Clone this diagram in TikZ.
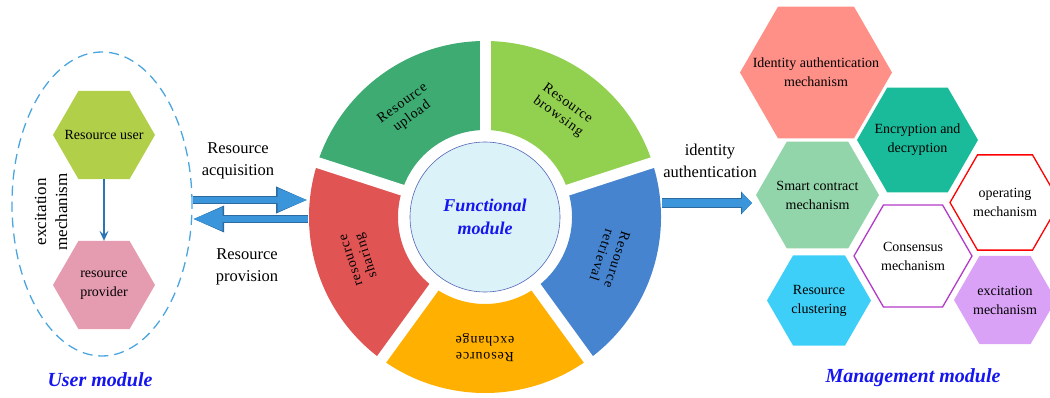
\documentclass[tikz,border=0pt]{standalone}
\usepackage{fontspec}
\setmainfont{Liberation Serif}
\usetikzlibrary{shapes.geometric,arrows.meta,calc}

\definecolor{dashblue}{HTML}{4BA6E0}
\definecolor{usergreen}{HTML}{B2CF4A}
\definecolor{provpink}{HTML}{E59BB0}
\definecolor{linkblue}{HTML}{2E75B6}
\definecolor{arrowfill}{HTML}{3A95DA}
\definecolor{arrowedge}{HTML}{2C6AA0}
\definecolor{modblue}{HTML}{1515F0}
\definecolor{upgreen}{HTML}{3DAB72}
\definecolor{browsegreen}{HTML}{92D050}
\definecolor{retrblue}{HTML}{4684D0}
\definecolor{exchorange}{HTML}{FFB000}
\definecolor{sharered}{HTML}{E05454}
\definecolor{circfill}{HTML}{DBF2F8}
\definecolor{circedge}{HTML}{5565B8}
\definecolor{idpink}{HTML}{FF9088}
\definecolor{encteal}{HTML}{1ABB9B}
\definecolor{smartgreen}{HTML}{93D5AA}
\definecolor{consviolet}{HTML}{B23AC8}
\definecolor{clustcyan}{HTML}{3DCFF7}
\definecolor{excitlilac}{HTML}{DAA2F7}

\tikzset{
  hexa/.style={regular polygon, regular polygon sides=6, inner sep=0pt, outer sep=0pt},
  hexlabel/.style={font=\fontsize{14}{19}\selectfont, align=center},
  modlabel/.style={font=\fontsize{20}{24}\selectfont\bfseries\itshape, text=modblue},
  lbl/.style={font=\fontsize{16.5}{22}\selectfont},
  ringtext/.style={font=\fontsize{14}{16}\selectfont\addfontfeature{LetterSpace=6}},
  blockarrow/.style={draw=arrowfill, line width=6pt, -{Triangle[length=30pt,width=22pt]},
    preaction={draw=arrowedge, line width=7.6pt, -{Triangle[length=31.5pt,width=24.5pt]}}},
  authArrow/.style={draw=arrowfill, line width=8pt, -{Triangle[length=10pt,width=20pt]},
    preaction={draw=arrowedge, line width=9.6pt, -{Triangle[length=11pt,width=22.5pt]}}},
}

\begin{document}
\begin{tikzpicture}[x=1pt, y=1pt, every node/.style={font=\fontsize{14}{19}\selectfont, align=center}]
  \useasboundingbox (0,0) rectangle (1050,397);

  % User module
  \node[ellipse, draw=dashblue, dash pattern=on 10pt off 6pt, line width=1.3pt,
        minimum width=180, minimum height=304, inner sep=0pt] (usermod) at (102,193) {};
  \node[hexa, fill=usergreen, minimum size=102, label={[hexlabel]center:Resource user}] (user) at (104,262) {};
  \node[hexa, fill=provpink, minimum size=102, label={[hexlabel]center:resource\\provider}] (provider) at (104,112) {};
  \draw[linkblue, line width=2.5pt, -{Stealth[length=10pt,width=9pt,inset=4pt]}] (user) -- (provider);
  \node[rotate=90, font=\fontsize{17}{21}\selectfont] (excit) at (51,185) {excitation\\mechanism};
  \node[modlabel] (userlbl) at (100,17) {User module};

  % Resource flows
  \draw[blockarrow] ($(usermod.east)+(0,4)$) -- ++(115,0);
  \draw[blockarrow] ($(usermod.east)+(115,-15)$) -- ++(-115,0);
  \node[lbl] (acq) at (238,236) {Resource\\acquisition};
  \node[lbl] (prov) at (247,130) {Resource\\provision};

  % Functional ring
  \begin{scope}[shift={(485,180)}]
    \fill[upgreen] (90:87) -- (90:176) arc[start angle=90, end angle=162, radius=176] -- (162:87) arc[start angle=162, end angle=90, radius=87] -- cycle;
    \fill[browsegreen] (18:87) -- (18:176) arc[start angle=18, end angle=90, radius=176] -- (90:87) arc[start angle=90, end angle=18, radius=87] -- cycle;
    \fill[retrblue] (-54:87) -- (-54:176) arc[start angle=-54, end angle=18, radius=176] -- (18:87) arc[start angle=18, end angle=-54, radius=87] -- cycle;
    \fill[exchorange] (234:87) -- (234:176) arc[start angle=234, end angle=306, radius=176] -- (306:87) arc[start angle=306, end angle=234, radius=87] -- cycle;
    \fill[sharered] (162:87) -- (162:176) arc[start angle=162, end angle=234, radius=176] -- (234:87) arc[start angle=234, end angle=162, radius=87] -- cycle;
    \foreach \a in {18,90,162,234,306}
      \draw[white, line width=11pt] (0,0) -- (\a:182);
    \node[circle, draw=circedge, fill=circfill, line width=0.6pt, minimum size=150, inner sep=0pt,
          font=\fontsize{18}{23}\selectfont\bfseries\itshape, text=modblue] (func) at (0,0) {Functional\\module};
    \node[ringtext, rotate=36] (upload) at (126:132) {Resource\\upload};
    \node[ringtext, rotate=-36] (browse) at (54:132) {Resource\\browsing};
    \node[ringtext, rotate=-108] (retrieve) at (342:131) {Resource\\retrieval};
    \node[ringtext, rotate=180] (exchange) at (270:131) {Resource\\exchange};
    \node[ringtext, rotate=108] (sharing) at (198:131) {resource\\sharing};
  \end{scope}

  % Management module
  \node[hexa, fill=idpink, minimum size=152, label={[hexlabel]center:Identity authentication\\mechanism}] (ident) at (816,324.5) {};
  \node[hexa, fill=encteal, minimum size=121, label={[hexlabel]center:Encryption and\\decryption}] (encrypt) at (917.5,257) {};
  \node[hexa, fill=smartgreen, minimum size=123, label={[hexlabel]center:Smart contract\\mechanism}] (smart) at (817.5,202) {};
  \node[hexa, draw=red, line width=1.3pt, fill=white, minimum size=110, label={[hexlabel]center:operating\\mechanism}] (operate) at (1005,194.5) {};
  \node[hexa, draw=consviolet, line width=1.3pt, minimum size=118, label={[hexlabel]center:Consensus\\mechanism}] (consensus) at (913,141) {};
  \node[hexa, fill=clustcyan, minimum size=104, label={[hexlabel]center:Resource\\clustering}] (cluster) at (819,96.5) {};
  \node[hexa, fill=excitlilac, minimum size=102, label={[hexlabel]center:excitation\\mechanism}] (excitmech) at (1005,97) {};
  \node[modlabel] (mgmtlbl) at (913,19) {Management module};

  % Authentication link
  \draw[authArrow] ($(func.center)+(177,14)$) -- ($(smart.west)+(-4,-8)$);
  \node[lbl] (auth) at (710,236) {identity\\authentication};
\end{tikzpicture}
\end{document}
